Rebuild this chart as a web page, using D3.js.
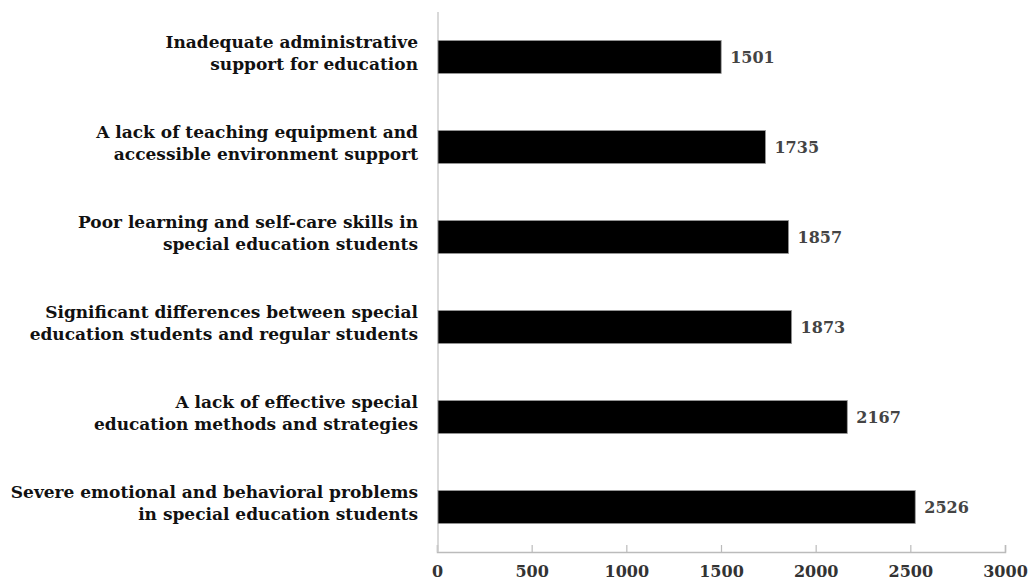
<!DOCTYPE html>
<html>
<head>
<meta charset="utf-8">
<script src="https://cdn.jsdelivr.net/npm/d3@7"></script>
<style>
  body { margin: 0; background: #fff; }
  text { font-family: "DejaVu Serif", serif; font-weight: bold; }
</style>
</head>
<body>
<svg id="chart" width="1029" height="583"></svg>
<script>
const categories = [
  ["Inadequate administrative", "support for education"],
  ["A lack of teaching equipment and", "accessible environment support"],
  ["Poor learning and self-care skills in", "special education students"],
  ["Significant differences between special", "education students and regular students"],
  ["A lack of effective special", "education methods and strategies"],
  ["Severe emotional and behavioral problems", "in special education students"],
];
const values = [1501, 1735, 1857, 1873, 2167, 2526];
const xTicks = [0, 500, 1000, 1500, 2000, 2500, 3000];

const margin = { top: 12, left: 437, right: 24, bottom: 31 };
const width = 1029, height = 583;

const svg = d3.select("#chart");

const x = d3.scaleLinear()
  .domain([0, 3000])
  .range([margin.left, width - margin.right]);

const y = d3.scaleBand()
  .domain(d3.range(categories.length))
  .range([margin.top, height - margin.bottom])
  .paddingInner(0.633)
  .paddingOuter(0.316);

// x axis, ticks pointing up
const xAxis = svg.append("g")
  .attr("transform", `translate(0,${height - margin.bottom})`)
  .call(d3.axisBottom(x).tickValues(xTicks).tickSize(-7).tickPadding(14).tickFormat(d3.format("d")));
xAxis.select(".domain").attr("stroke", "#bbb").attr("stroke-width", 1.5);
xAxis.selectAll(".tick line").attr("stroke", "#bbb").attr("stroke-width", 1.2);
xAxis.selectAll(".tick text")
  .attr("fill", "#333")
  .style("font-size", "16px")
  .style("font-family", "DejaVu Serif, serif")
  .style("font-weight", "bold");

// y axis line
svg.append("line")
  .attr("x1", margin.left + 1).attr("x2", margin.left + 1)
  .attr("y1", margin.top).attr("y2", height - margin.bottom)
  .attr("stroke", "#ccc").attr("stroke-width", 1.5);

// bars
svg.append("g")
  .selectAll("rect")
  .data(values)
  .join("rect")
  .attr("x", x(0) + 1)
  .attr("y", (d, i) => y(i))
  .attr("width", (d) => x(d) - x(0) - 1)
  .attr("height", y.bandwidth())
  .attr("fill", "#000")
  .attr("stroke", "#999")
  .attr("stroke-width", 0.8);

// value labels
svg.append("g")
  .selectAll("text")
  .data(values)
  .join("text")
  .attr("x", (d) => x(d) + 9)
  .attr("y", (d, i) => y(i) + y.bandwidth() / 2 + 6)
  .attr("fill", "#444")
  .style("font-size", "16px")
  .text((d) => d);

// category labels, two lines each
const labels = svg.append("g")
  .selectAll("text")
  .data(categories)
  .join("text")
  .attr("text-anchor", "end")
  .attr("fill", "#111")
  .style("font-size", "17px")
  .attr("y", (d, i) => y(i) + y.bandwidth() / 2);

labels.selectAll("tspan")
  .data((d) => d)
  .join("tspan")
  .attr("x", 418)
  .attr("dy", (d, j) => (j === 0 ? "-9" : "22"))
  .text((d) => d);
</script>
</body>
</html>
